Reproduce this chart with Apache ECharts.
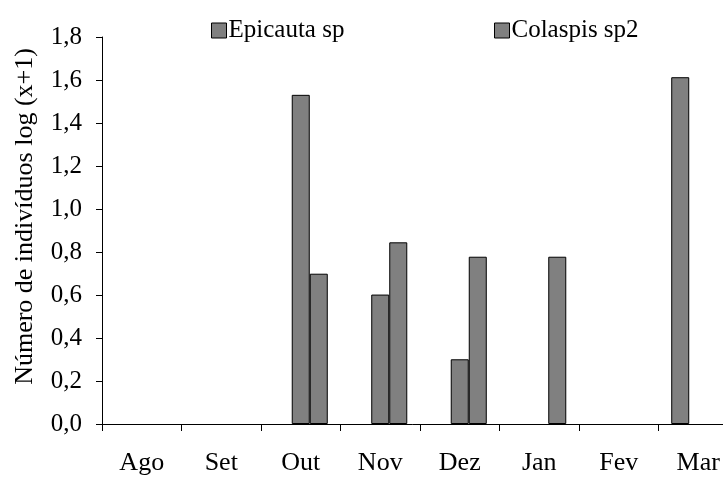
<!DOCTYPE html>
<html>
<head>
<meta charset="utf-8">
<script src="https://cdn.jsdelivr.net/npm/echarts@6/dist/echarts.min.js"></script>
<style>
html,body{margin:0;padding:0;background:#fff;}
#chart{width:723px;height:477px;}
</style>
</head>
<body>
<div id="chart"></div>
<script>
const categories = ['Ago', 'Set', 'Out', 'Nov', 'Dez', 'Jan', 'Fev', 'Mar'];
const serie1 = ['-', '-', '-', '-', '-', '-', '-', 1.613];
const epicauta = ['-', '-', 1.531, 0.602, 0.301, '-', '-', '-'];
const colaspis = ['-', '-', 0.699, 0.845, 0.778, 0.778, '-', '-'];
const yTicks = [0, 0.2, 0.4, 0.6, 0.8, 1.0, 1.2, 1.4, 1.6, 1.8];

const FONT = '"Liberation Serif", "Times New Roman", serif';
const chart = echarts.init(document.getElementById('chart'), null, {renderer: 'canvas'});
const barStyle = {color: '#808080', borderColor: '#000', borderWidth: 1};

chart.setOption({
  animation: false,
  backgroundColor: '#fff',
  textStyle: {fontFamily: FONT, color: '#000'},
  legend: [
    {
      data: ['Epicauta sp'], left: 206, top: 13, itemWidth: 15, itemHeight: 15, itemGap: 6,
      icon: 'rect',
      itemStyle: {borderColor: '#000', borderWidth: 1},
      textStyle: {fontFamily: FONT, fontSize: 25, color: '#000', padding: [0, 0, 0, -3]}
    },
    {
      data: ['Colaspis sp2'], left: 489, top: 13, itemWidth: 15, itemHeight: 15, itemGap: 6,
      icon: 'rect',
      itemStyle: {borderColor: '#000', borderWidth: 1},
      textStyle: {fontFamily: FONT, fontSize: 25, color: '#000', padding: [0, 0, 0, -3]}
    }
  ],
  grid: {left: 102, top: 37, width: 636, height: 387, containLabel: false, outerBoundsMode: 'none'},
  xAxis: {
    type: 'category',
    data: categories,
    boundaryGap: true,
    axisLine: {lineStyle: {color: '#000', width: 1}},
    axisTick: {show: true, length: 7, lineStyle: {color: '#000'}},
    axisLabel: {fontFamily: FONT, fontSize: 26, color: '#000', margin: 26, interval: 0},
    splitLine: {show: false}
  },
  yAxis: {
    type: 'value',
    min: 0, max: 1.8, interval: 0.2,
    name: 'Número de indivíduos log (x+1)',
    nameLocation: 'middle',
    nameGap: 64,
    nameRotate: 90,
    nameTextStyle: {fontFamily: FONT, fontSize: 26, color: '#000', padding: [0, 0, 0, 28]},
    axisLine: {show: true, lineStyle: {color: '#000', width: 1}},
    axisTick: {show: true, length: 6, lineStyle: {color: '#000'}},
    axisLabel: {
      fontFamily: FONT, fontSize: 25, color: '#000', margin: 20,
      formatter: v => {
        const t = yTicks.find(x => Math.abs(x - v) < 1e-6);
        return (t !== undefined ? t : v).toFixed(1).replace('.', ',');
      }
    },
    splitLine: {show: false}
  },
  series: [
    {name: 'Série 1', type: 'bar', data: serie1, itemStyle: barStyle, barGap: '0%', barCategoryGap: '32%'},
    {name: 'Epicauta sp', type: 'bar', data: epicauta, itemStyle: barStyle, barGap: '0%', barCategoryGap: '32%'},
    {name: 'Colaspis sp2', type: 'bar', data: colaspis, itemStyle: barStyle, barGap: '0%', barCategoryGap: '32%'}
  ]
});
</script>
</body>
</html>
